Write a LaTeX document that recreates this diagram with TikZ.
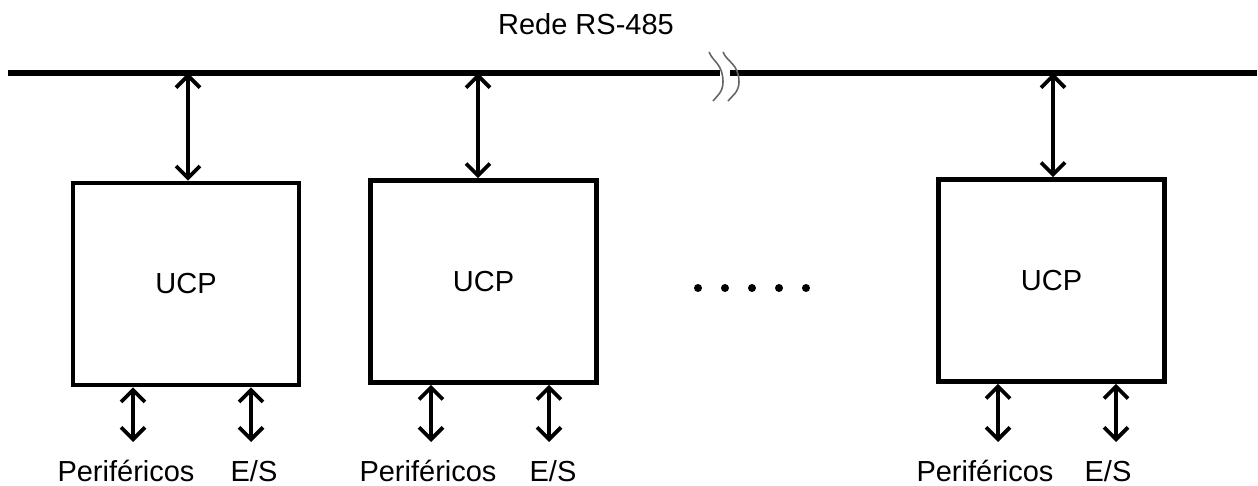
\documentclass[tikz,border=0pt]{standalone}
\usepackage{fontspec}
\setmainfont{Liberation Sans}
\usetikzlibrary{arrows.meta}

\begin{document}
\begin{tikzpicture}[
    x=0.02cm, y=-0.02cm,
    ucp/.style={draw, line width=2.6pt, minimum width=4.52cm,
                minimum height=4.04cm, inner sep=0pt,
                font=\fontsize{16.5}{20}\selectfont},
    link/.style={line width=2.2pt,
                 {Straight Barb[length=2.4mm,width=4.8mm]}-{Straight Barb[length=2.4mm,width=4.8mm]}},
    bus/.style={line width=2.9pt},
    cut/.style={line width=0.9pt, black!60},
    lbl/.style={font=\fontsize{16.5}{20}\selectfont, inner sep=0pt, anchor=base}
  ]
  \useasboundingbox (0,0) rectangle (1258,486);

  % Network bus
  \node[lbl] (rede) at (586,35) {Rede RS-485};
  \coordinate (busW) at (8,73);
  \coordinate (gapW) at (720,73);
  \coordinate (gapE) at (730,73);
  \coordinate (busE) at (1257,73);
  \draw[bus] (busW) -- (gapW);
  \draw[bus] (gapE) -- (busE);
  \draw[cut] (709,52) .. controls (713,62) and (723,64) .. (723,82)
                      .. controls (723,92) and (717,96) .. (713,101);
  \draw[cut] (723,52) .. controls (727,62) and (739,64) .. (739,82)
                      .. controls (739,92) and (732,96) .. (728,101);

  % Processing units
  \node[ucp] (u1) at (186,284)    {UCP};
  \node[ucp] (u2) at (483.5,281.5){UCP};
  \node[ucp] (u3) at (1051.5,280.5){UCP};

  % Bus taps
  \coordinate (b1) at (188,73);
  \coordinate (b2) at (478,73);
  \coordinate (b3) at (1053,73);
  \draw[link] (b1) -- (b1 |- u1.north);
  \draw[link] (b2) -- (b2 |- u2.north);
  \draw[link] (b3) -- (b3 |- u3.north);

  % Peripheral and I/O links
  \coordinate (p1) at (133,442);
  \coordinate (e1) at (251,442);
  \coordinate (p2) at (431,442);
  \coordinate (e2) at (549,442);
  \coordinate (p3) at (998,442);
  \coordinate (e3) at (1116,442);
  \draw[link] (p1 |- u1.south) -- (p1);
  \draw[link] (e1 |- u1.south) -- (e1);
  \draw[link] (p2 |- u2.south) -- (p2);
  \draw[link] (e2 |- u2.south) -- (e2);
  \draw[link] (p3 |- u3.south) -- (p3);
  \draw[link] (e3 |- u3.south) -- (e3);

  % Labels
  \node[lbl] (pf1) at (126,481)  {Periféricos};
  \node[lbl] (es1) at (254,481)  {E/S};
  \node[lbl] (pf2) at (428,481)  {Periféricos};
  \node[lbl] (es2) at (553,481)  {E/S};
  \node[lbl] (pf3) at (985,481)  {Periféricos};
  \node[lbl] (es3) at (1108,481) {E/S};

  % More units
  \fill (698,288) circle (0.8mm) (725,288) circle (0.8mm)
        (752,288) circle (0.8mm) (779,288) circle (0.8mm)
        (806,288) circle (0.8mm);
\end{tikzpicture}
\end{document}
